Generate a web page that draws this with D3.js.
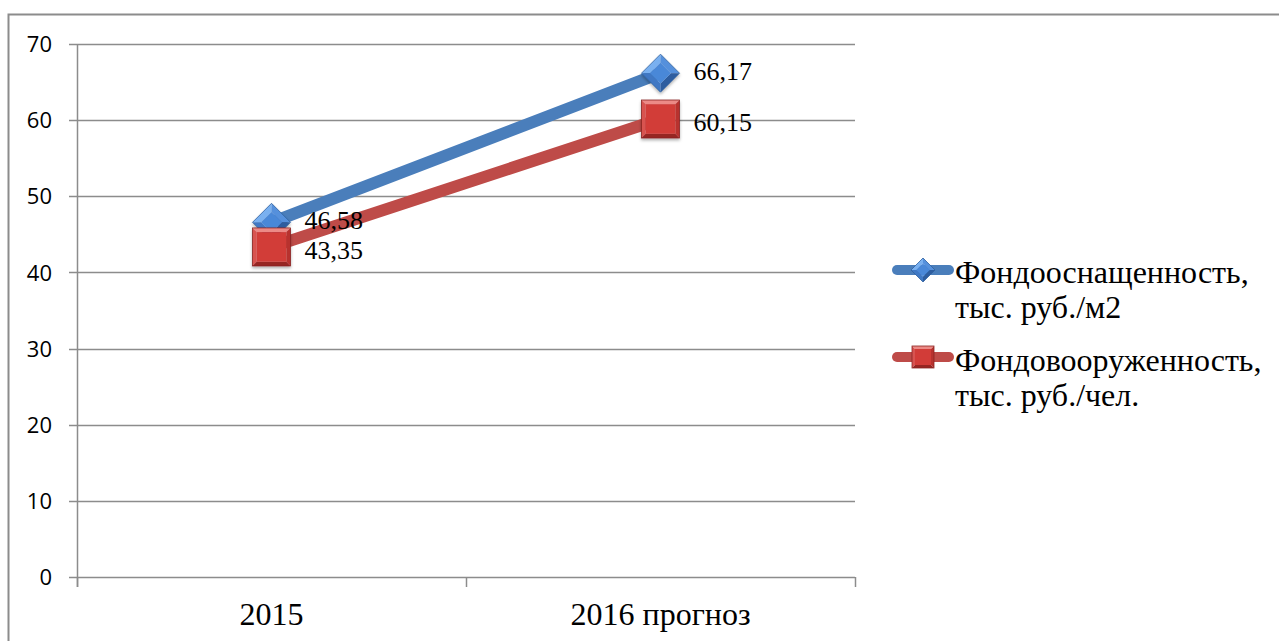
<!DOCTYPE html>
<html>
<head>
<meta charset="utf-8">
<script src="https://cdn.jsdelivr.net/npm/d3@7"></script>
<style>
  html, body { margin: 0; padding: 0; background: #fff; }
  svg { display: block; }
</style>
</head>
<body>
<svg id="chart" width="1279" height="641"></svg>
<script>
// Categories and series
const categories = ["2015", "2016 прогноз"];
const seriesNames = [["Фондооснащенность,", "тыс. руб./м2"], ["Фондовооруженность,", "тыс. руб./чел."]];
const equipment = [46.58, 66.17];     // тыс. руб./м2
const armament = [43.35, 60.15];      // тыс. руб./чел.
const valueLabels = [["46,58", "66,17"], ["43,35", "60,15"]];
const yTicks = [0, 10, 20, 30, 40, 50, 60, 70];

const svg = d3.select("#chart");
const W = 1279, H = 641;
const plot = { left: 77, right: 855, top: 44, bottom: 577 };
const serif = "'Liberation Serif', 'Times New Roman', serif";
const sans = "'Open Sans', 'Noto Sans', sans-serif";

const defs = svg.append("defs");
const shadow = defs.append("filter").attr("id", "shadow").attr("x", "-30%").attr("y", "-30%").attr("width", "170%").attr("height", "170%");
shadow.append("feDropShadow").attr("dx", 0).attr("dy", 2).attr("stdDeviation", 1.5).attr("flood-color", "#000").attr("flood-opacity", 0.3);

// Outer frame
svg.append("path")
  .attr("d", `M8.5,${H} L8.5,14.5 L${W},14.5`)
  .attr("fill", "none").attr("stroke", "#8c8c8c").attr("stroke-width", 2);

const x = d3.scaleBand().domain(categories).range([plot.left, plot.right]).padding(0);
const y = d3.scaleLinear().domain([0, 70]).range([plot.bottom, plot.top]);

// Horizontal grid
svg.append("g").selectAll("line").data(yTicks).join("line")
  .attr("x1", plot.left - 8).attr("x2", plot.right)
  .attr("y1", d => Math.round(y(d)) + 0.5).attr("y2", d => Math.round(y(d)) + 0.5)
  .attr("stroke", "#8c8c8c").attr("stroke-width", 1.5);

// Y axis
const yAxis = d3.axisLeft(y).tickValues(yTicks).tickSize(0).tickPadding(25);
const ya = svg.append("g").attr("transform", `translate(${plot.left},0)`).call(yAxis);
ya.select(".domain").remove();
ya.selectAll("text").attr("font-family", sans).attr("font-size", 22).attr("fill", "#000").attr("dy", "0.35em");
svg.append("line").attr("x1", plot.left + 0.5).attr("x2", plot.left + 0.5)
  .attr("y1", plot.top).attr("y2", plot.bottom + 10)
  .attr("stroke", "#8c8c8c").attr("stroke-width", 1.5);

// X axis category ticks
const xTickPos = [plot.left, ...categories.map(c => x(c) + x.bandwidth())];
svg.append("g").selectAll("line").data(xTickPos).join("line")
  .attr("x1", d => d + 0.5).attr("x2", d => d + 0.5)
  .attr("y1", plot.bottom).attr("y2", plot.bottom + 10)
  .attr("stroke", "#8c8c8c").attr("stroke-width", 1.5);
const xAxis = d3.axisBottom(x).tickSize(0).tickPadding(0);
const xa = svg.append("g").attr("transform", `translate(0,${plot.bottom})`).call(xAxis);
xa.select(".domain").remove();
xa.selectAll("text").attr("font-family", serif).attr("font-size", 32).attr("fill", "#000")
  .attr("y", 48).attr("dy", 0);

const cx = c => x(c) + x.bandwidth() / 2;

const series = [
  { values: equipment, color: "#4a7ebb", shape: "diamond", labelDy: 7,
    facets: { top: "#79b0f0", left: "#5590dc", right: "#3f78c4", bottom: "#2d5d9f", inner: "#4a88d8" }, edge: "#2f5f9e" },
  { values: armament, color: "#be4b48", shape: "square", labelDy: 12,
    facets: { top: "#ec8a86", left: "#d85350", right: "#b8322f", bottom: "#962522", inner: "#d23c38" }, edge: "#8a2421" }
];

const line = d3.line().x((d, i) => cx(categories[i])).y(d => y(d));

// Lines
series.forEach(s => {
  svg.append("path").datum(s.values).attr("d", line)
    .attr("fill", "none").attr("stroke", s.color).attr("stroke-width", 12).attr("stroke-linecap", "round");
});

// Bevelled marker: four facets around a flat inner face
function drawMarker(parent, s, px, py, r, shadowed) {
  const g = parent.append("g").attr("transform", `translate(${px},${py})`);
  if (shadowed) g.attr("filter", "url(#shadow)");
  const f = s.facets;
  const poly = pts => "M" + pts.map(p => p.join(",")).join("L") + "Z";
  if (s.shape === "diamond") {
    const i = r * 0.55;
    const T = [0, -r], R = [r, 0], B = [0, r], L = [-r, 0];
    const t = [0, -i], rr = [i, 0], b = [0, i], l = [-i, 0];
    g.append("path").attr("d", poly([L, T, t, l])).attr("fill", f.top);
    g.append("path").attr("d", poly([T, R, rr, t])).attr("fill", f.left);
    g.append("path").attr("d", poly([R, B, b, rr])).attr("fill", f.bottom);
    g.append("path").attr("d", poly([B, L, l, b])).attr("fill", f.right);
    g.append("path").attr("d", poly([t, rr, b, l])).attr("fill", f.inner);
    g.append("path").attr("d", poly([T, R, B, L])).attr("fill", "none").attr("stroke", s.edge).attr("stroke-width", 0.8);
  } else {
    const i = r - Math.max(3, r * 0.22);
    g.append("path").attr("d", poly([[-r, -r], [r, -r], [i, -i], [-i, -i]])).attr("fill", f.top);
    g.append("path").attr("d", poly([[-r, -r], [-i, -i], [-i, i], [-r, r]])).attr("fill", f.left);
    g.append("path").attr("d", poly([[r, -r], [r, r], [i, i], [i, -i]])).attr("fill", f.right);
    g.append("path").attr("d", poly([[-r, r], [-i, i], [i, i], [r, r]])).attr("fill", f.bottom);
    g.append("rect").attr("x", -i).attr("y", -i).attr("width", 2 * i).attr("height", 2 * i).attr("fill", f.inner);
    g.append("rect").attr("x", -r).attr("y", -r).attr("width", 2 * r).attr("height", 2 * r)
      .attr("fill", "none").attr("stroke", s.edge).attr("stroke-width", 0.8);
  }
}

// Markers
series.forEach(s => {
  const g = svg.append("g");
  s.values.forEach((v, i) => drawMarker(g, s, cx(categories[i]), y(v), 19, true));
});

// Value labels
series.forEach((s, si) => {
  svg.append("g").selectAll("text").data(s.values).join("text")
    .attr("x", (d, i) => cx(categories[i]) + 33)
    .attr("y", d => y(d) + s.labelDy)
    .attr("font-family", serif).attr("font-size", 26).attr("fill", "#000")
    .text((d, i) => valueLabels[si][i]);
});

// Legend
const legY = [270, 357];
const legBase = [[283, 318], [371, 406]];
series.forEach((s, i) => {
  const g = svg.append("g");
  g.append("line").attr("x1", 897).attr("x2", 949).attr("y1", legY[i]).attr("y2", legY[i])
    .attr("stroke", s.color).attr("stroke-width", 10).attr("stroke-linecap", "round");
  drawMarker(g, s, 923, legY[i], s.shape === "diamond" ? 12 : 11, false);
  seriesNames[i].forEach((ln, k) => {
    g.append("text").attr("x", 955).attr("y", legBase[i][k])
      .attr("font-family", serif).attr("font-size", 32).attr("fill", "#000").text(ln);
  });
});
</script>
</body>
</html>
